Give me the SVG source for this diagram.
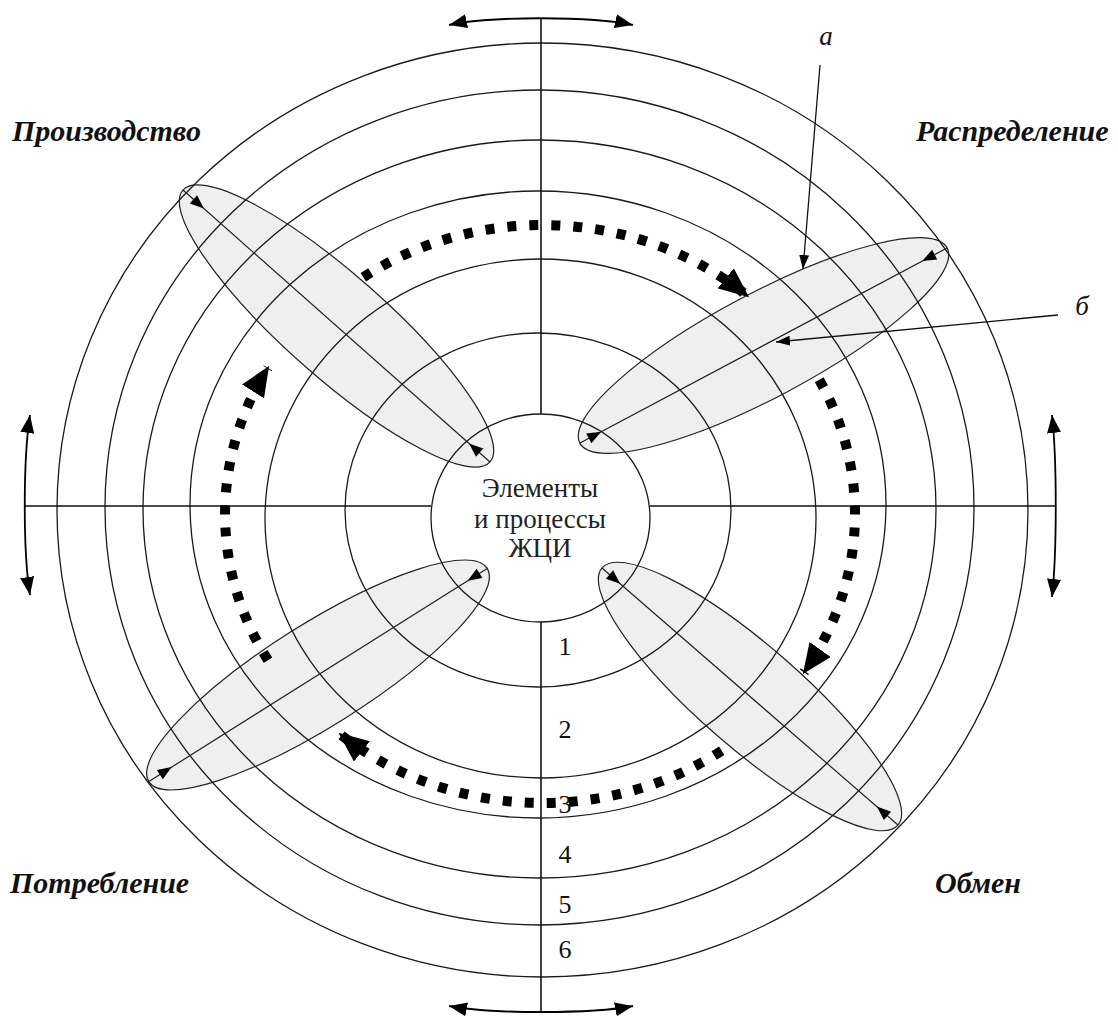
<svg xmlns="http://www.w3.org/2000/svg" xmlns:xlink="http://www.w3.org/1999/xlink" width="1118" height="1016" viewBox="0 0 1118 1016">
<style>
.ring{fill:none;stroke:#1a1a1a;stroke-width:1.3}
.axis{fill:none;stroke:#111;stroke-width:1.6}
.lobe{fill:#efefef;stroke:#222;stroke-width:1.2}
.lobeaxis{fill:none;stroke:#222;stroke-width:1.2}
.dots{fill:none;stroke:#000;stroke-width:10;stroke-dasharray:9 13}
.curv{fill:none;stroke:#000;stroke-width:1.8}
.ptr{fill:none;stroke:#111;stroke-width:1.3}
.lbl{font-family:"Liberation Serif","Times New Roman",serif;font-style:italic;font-weight:bold;font-size:30px;fill:#111}
.mark{font-family:"Liberation Serif","Times New Roman",serif;font-style:italic;font-size:27px;fill:#111}
.num{font-family:"Liberation Serif","Times New Roman",serif;font-size:26px;fill:#111;text-anchor:middle}
.ctr{font-family:"Liberation Serif","Times New Roman",serif;font-size:27px;fill:#222;text-anchor:middle}
</style>
<defs>
<marker id="cm" viewBox="0 0 18 14" refX="18" refY="7" markerWidth="18" markerHeight="14" markerUnits="userSpaceOnUse" orient="auto-start-reverse"><path d="M0,0 L18,7 L0,14 z" fill="#000"/></marker>
<marker id="dm" viewBox="0 0 30 26" refX="28" refY="13" markerWidth="30" markerHeight="26" markerUnits="userSpaceOnUse" orient="auto"><path d="M0,0 L30,13 L0,26 z" fill="#000"/></marker>
<marker id="pm" viewBox="0 0 14 10" refX="14" refY="5" markerWidth="14" markerHeight="10" markerUnits="userSpaceOnUse" orient="auto"><path d="M0,0 L14,5 L0,10 z" fill="#000"/></marker>
<path id="ah" d="M0,0 L-14,-5.5 L-14,5.5 z" fill="#000"/>
</defs>
<rect width="1118" height="1016" fill="#fff"/>

<g id="lobe-production">
<ellipse class="lobe" cx="336.5" cy="326" rx="205" ry="51" transform="rotate(41.5 336.5 326)"/>
</g>
<g id="lobe-distribution">
<ellipse class="lobe" cx="763.5" cy="345.5" rx="208" ry="52" transform="rotate(-28 763.5 345.5)"/>
</g>
<g id="lobe-consumption">
<ellipse class="lobe" cx="318" cy="675" rx="200" ry="51" transform="rotate(-32.2 318 675)"/>
</g>
<g id="lobe-exchange">
<ellipse class="lobe" cx="750" cy="696.5" rx="196" ry="51" transform="rotate(41 750 696.5)"/>
</g>

<g id="rings">
<ellipse class="ring" cx="538" cy="510" rx="193" ry="177"/>
<ellipse class="ring" cx="540.5" cy="518.5" rx="275.5" ry="259.5"/>
<ellipse class="ring" cx="538" cy="504.5" rx="348" ry="313.5"/>
<ellipse class="ring" cx="539.5" cy="509" rx="396.5" ry="369"/>
<ellipse class="ring" cx="539.5" cy="507.5" rx="434.5" ry="417.5"/>
<ellipse class="ring" cx="542.5" cy="510" rx="485.5" ry="467"/>
</g>

<g id="center">
<ellipse class="ring" cx="540.5" cy="518" rx="109.5" ry="104"/>
<text class="ctr" x="540" y="497">Элементы</text>
<text class="ctr" x="540" y="528">и процессы</text>
<text class="ctr" x="540" y="557">ЖЦИ</text>
</g>

<g id="connectors">
<line class="axis" x1="25" y1="506" x2="431" y2="506"/>
<line class="axis" x1="650" y1="506" x2="1055" y2="506"/>
<line class="axis" x1="541" y1="18" x2="541" y2="414"/>
<line class="axis" x1="541" y1="622" x2="541" y2="1012"/>

<path class="curv" d="M449,25 C490,16 592,16 633,25" marker-start="url(#cm)" marker-end="url(#cm)"/>
<path class="curv" d="M449,1006 C490,1014 592,1014 633,1006" marker-start="url(#cm)" marker-end="url(#cm)"/>
<path class="curv" d="M30,415 C23,460 23,552 30,595" marker-start="url(#cm)" marker-end="url(#cm)"/>
<path class="curv" d="M1052,415 C1057,460 1057,552 1052,597" marker-start="url(#cm)" marker-end="url(#cm)"/>

<line class="lobeaxis" x1="183" y1="190" x2="490" y2="462"/>
<use xlink:href="#ah" transform="translate(203.9 208.6) rotate(41.5)"/>
<use xlink:href="#ah" transform="translate(469.1 443.4) rotate(221.5)"/>
<line class="lobeaxis" x1="580" y1="443" x2="947" y2="248"/>
<use xlink:href="#ah" transform="translate(601.2 431.7) rotate(-28)"/>
<use xlink:href="#ah" transform="translate(922.3 261.1) rotate(152)"/>
<line class="lobeaxis" x1="148" y1="782" x2="488" y2="568"/>
<use xlink:href="#ah" transform="translate(171.7 767.1) rotate(-32.2)"/>
<use xlink:href="#ah" transform="translate(467.7 580.8) rotate(147.8)"/>
<line class="lobeaxis" x1="602" y1="568" x2="898" y2="825"/>
<use xlink:href="#ah" transform="translate(620.1 583.7) rotate(41)"/>
<use xlink:href="#ah" transform="translate(876.9 806.6) rotate(221)"/>

<path class="dots" d="M363.3,277.3 A312.5,289 0 0 1 747.5,295.9" marker-end="url(#dm)"/>
<path class="dots" d="M819.2,379.7 A312.5,289 0 0 1 804,672.3" marker-end="url(#dm)"/>
<path class="dots" d="M721.7,750.7 A312.5,289 0 0 1 340,734.1" marker-end="url(#dm)"/>
<path class="dots" d="M268,660.2 A312.5,289 0 0 1 268,367.8" marker-end="url(#dm)"/>

<line class="ptr" x1="820" y1="65" x2="803" y2="269" marker-end="url(#pm)"/>
<line class="ptr" x1="1058" y1="315" x2="776" y2="342" marker-end="url(#pm)"/>
</g>

<g id="labels">
<text class="lbl" x="12" y="141">Производство</text>
<text class="lbl" x="916" y="141">Распределение</text>
<text class="lbl" x="10" y="893">Потребление</text>
<text class="lbl" x="935" y="893">Обмен</text>
<text class="mark" x="826" y="45" text-anchor="middle">а</text>
<text class="mark" x="1082" y="315" text-anchor="middle">б</text>
<text class="num" x="565" y="655">1</text>
<text class="num" x="565" y="738">2</text>
<text class="num" x="565" y="813">3</text>
<text class="num" x="565" y="863">4</text>
<text class="num" x="565" y="913">5</text>
<text class="num" x="565" y="958">6</text>
</g>
</svg>
